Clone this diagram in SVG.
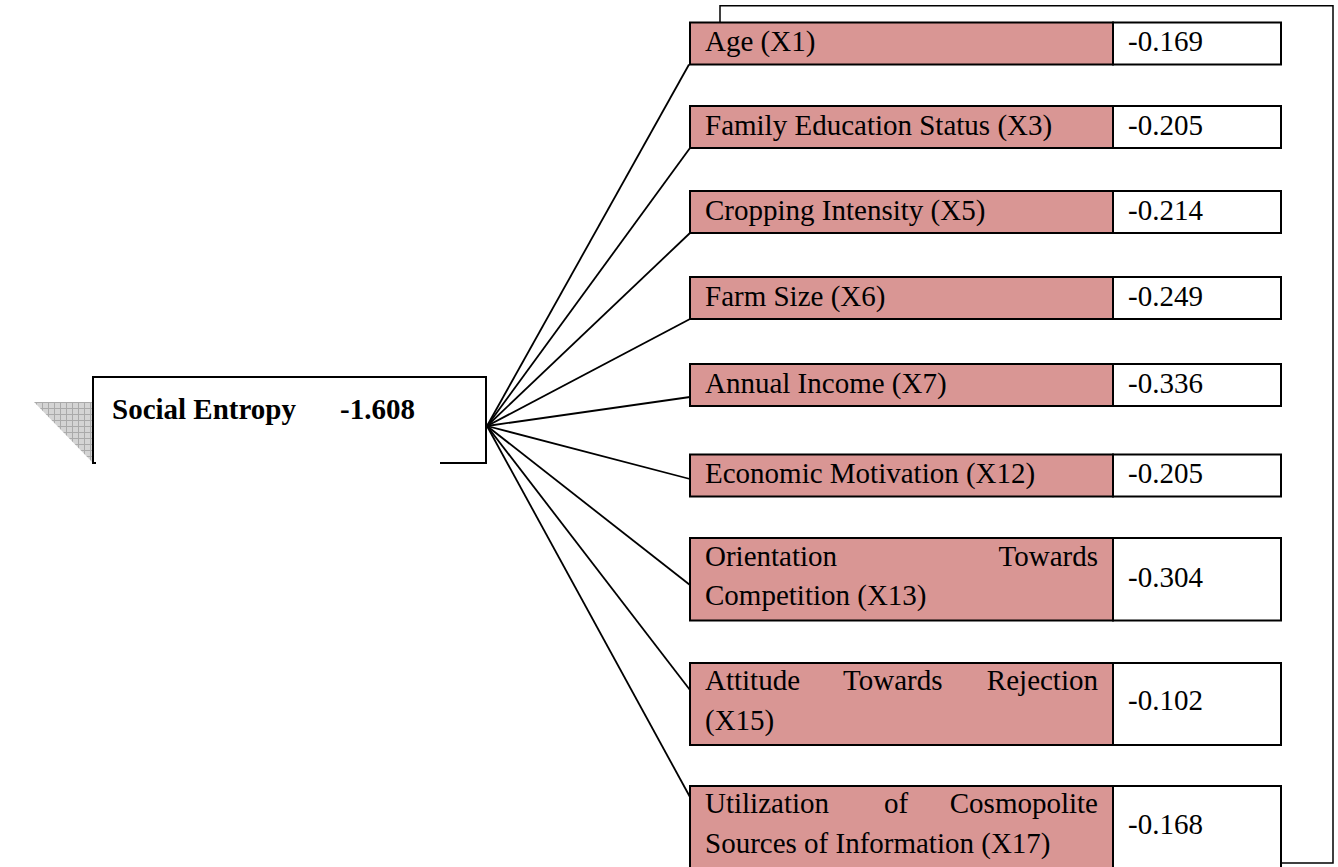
<svg xmlns="http://www.w3.org/2000/svg" width="1338" height="867" viewBox="0 0 1338 867">
<defs>
<style>
.lbl{fill:#D99694;stroke:#000;stroke-width:2}
.val{fill:#fff;stroke:#000;stroke-width:2}
.t{font-family:"Liberation Serif","Times New Roman",serif;font-size:29px;fill:#000}
.b{font-weight:bold}
.c{stroke:#000;stroke-width:1.8;fill:none}
.f{stroke:#000;stroke-width:1.5;fill:none}
</style>
<pattern id="grid" width="6" height="6" patternUnits="userSpaceOnUse">
<rect width="6" height="6" fill="#d4d4d4"/>
<path d="M0,0.5H6M0.5,0V6" stroke="#aaaaaa" stroke-width="1"/>
</pattern>
</defs>
<rect width="1338" height="867" fill="#fff"/>

<g id="frame">
<path class="f" d="M720,22.5V5.7H1333V863H1113"/>
</g>

<g id="connectors">
<path class="c" d="M487,426L689,64.5"/>
<path class="c" d="M487,426L690,148"/>
<path class="c" d="M487,426L690,233"/>
<path class="c" d="M487,426L690,319"/>
<path class="c" d="M487,426L690,397"/>
<path class="c" d="M487,426L690,479"/>
<path class="c" d="M487,426L690,585"/>
<path class="c" d="M487,426L690,690"/>
<path class="c" d="M487,426L690,797"/>
</g>

<g id="social-entropy">
<polygon points="34,402 92,402 92,462" fill="url(#grid)"/>
<rect x="93" y="377" width="393" height="86" fill="#fff"/>
<path d="M96,463H93V377H486V463H440" stroke="#000" stroke-width="2" fill="none"/>
<text class="t b" x="112" y="419">Social Entropy</text>
<text class="t b" x="340" y="419">-1.608</text>
</g>

<g id="x1">
<rect class="lbl" x="690" y="22.5" width="423" height="42"/>
<rect class="val" x="1113" y="22.5" width="168" height="42"/>
<text class="t" x="705" y="51">Age (X1)</text>
<text class="t" x="1128" y="51">-0.169</text>
</g>

<g id="x3">
<rect class="lbl" x="690" y="106" width="423" height="42"/>
<rect class="val" x="1113" y="106" width="168" height="42"/>
<text class="t" x="705" y="134.5">Family Education Status (X3)</text>
<text class="t" x="1128" y="134.5">-0.205</text>
</g>

<g id="x5">
<rect class="lbl" x="690" y="191" width="423" height="42"/>
<rect class="val" x="1113" y="191" width="168" height="42"/>
<text class="t" x="705" y="219.5">Cropping Intensity (X5)</text>
<text class="t" x="1128" y="219.5">-0.214</text>
</g>

<g id="x6">
<rect class="lbl" x="690" y="277" width="423" height="42"/>
<rect class="val" x="1113" y="277" width="168" height="42"/>
<text class="t" x="705" y="306">Farm Size (X6)</text>
<text class="t" x="1128" y="306">-0.249</text>
</g>

<g id="x7">
<rect class="lbl" x="690" y="364" width="423" height="42"/>
<rect class="val" x="1113" y="364" width="168" height="42"/>
<text class="t" x="705" y="392.5">Annual Income (X7)</text>
<text class="t" x="1128" y="392.5">-0.336</text>
</g>

<g id="x12">
<rect class="lbl" x="690" y="454.5" width="423" height="42"/>
<rect class="val" x="1113" y="454.5" width="168" height="42"/>
<text class="t" x="705" y="483">Economic Motivation (X12)</text>
<text class="t" x="1128" y="483">-0.205</text>
</g>

<g id="x13">
<rect class="lbl" x="690" y="538" width="423" height="82.5"/>
<rect class="val" x="1113" y="538" width="168" height="82.5"/>
<text class="t" x="705" y="566">Orientation</text>
<text class="t" x="1098" y="566" text-anchor="end">Towards</text>
<text class="t" x="705" y="605">Competition (X13)</text>
<text class="t" x="1128" y="587">-0.304</text>
</g>

<g id="x15">
<rect class="lbl" x="690" y="663" width="423" height="82"/>
<rect class="val" x="1113" y="663" width="168" height="82"/>
<text class="t" x="705" y="690">Attitude</text>
<text class="t" x="843" y="690">Towards</text>
<text class="t" x="1098" y="690" text-anchor="end">Rejection</text>
<text class="t" x="705" y="730">(X15)</text>
<text class="t" x="1128" y="710">-0.102</text>
</g>

<g id="x17">
<rect class="lbl" x="690" y="786" width="423" height="90"/>
<rect class="val" x="1113" y="786" width="168" height="90"/>
<text class="t" x="705" y="813">Utilization</text>
<text class="t" x="884" y="813">of</text>
<text class="t" x="1098" y="813" text-anchor="end">Cosmopolite</text>
<text class="t" x="705" y="853">Sources of Information (X17)</text>
<text class="t" x="1128" y="834">-0.168</text>
</g>
</svg>
